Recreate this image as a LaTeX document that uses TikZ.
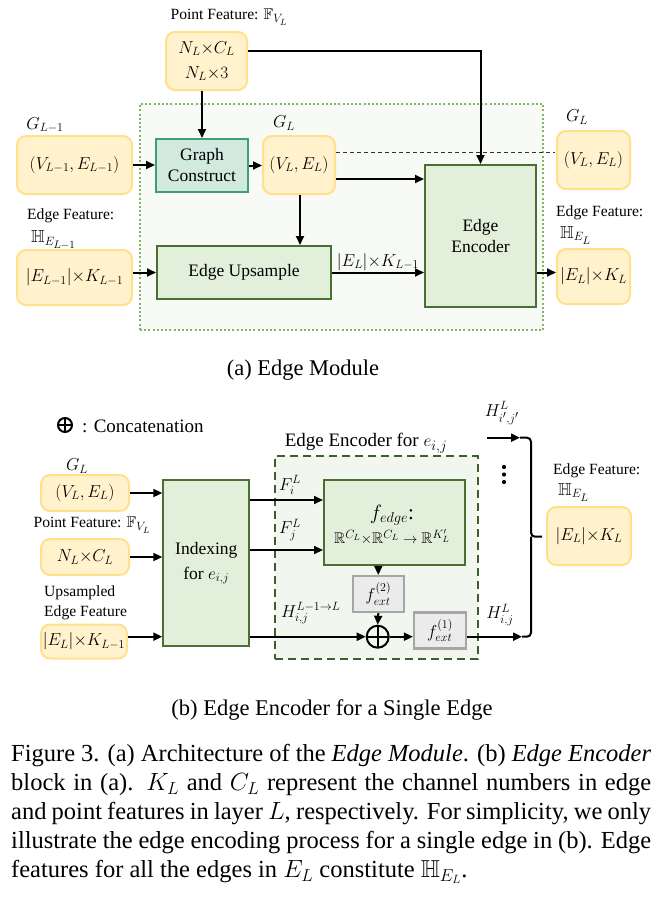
\documentclass[tikz,border=0pt]{standalone}
\usepackage{amsmath,amssymb}
\usepackage{fontspec}
\setmainfont{Liberation Serif}
\usetikzlibrary{arrows.meta}
\DeclareMathSizes{17.5}{17.5}{13.2}{10.5}
\DeclareMathSizes{15.6}{15.6}{11.8}{9.5}
\DeclareMathSizes{15.5}{15.5}{11.6}{9.3}
\DeclareMathSizes{19}{19}{14.2}{11.4}
\DeclareMathSizes{21}{21}{15.5}{12.5}
\definecolor{ofill}{HTML}{FFF2CC}
\definecolor{odraw}{HTML}{FFE08C}
\definecolor{gfill}{HTML}{E2EFDA}
\definecolor{gdraw}{HTML}{4B6E33}
\definecolor{tfill}{HTML}{D2E9DF}
\definecolor{tdraw}{HTML}{3F9E7A}
\definecolor{dotg}{HTML}{82B366}
\definecolor{cafill}{HTML}{F8FBF5}
\definecolor{cbfill}{HTML}{F1F6EE}
\definecolor{cbdraw}{HTML}{3F5F2A}
\definecolor{xfill}{HTML}{EBEBEB}
\definecolor{xdraw}{HTML}{A6A6A6}
\newcommand{\boxfs}{\fontsize{17.5}{25}\selectfont}
\newcommand{\labfs}{\fontsize{15.6}{19}\selectfont}
\newcommand{\bigfs}{\fontsize{19}{23}\selectfont}
\newcommand{\subfs}{\fontsize{22.5}{27}\selectfont}
\newcommand{\capfs}{\fontsize{24.5}{29}\selectfont}
\tikzset{
  obox/.style={draw=odraw, fill=ofill, line width=2pt, rounded corners=9pt, inner sep=0pt, font=\boxfs, align=center},
  gbox/.style={draw=gdraw, fill=gfill, line width=2pt, inner sep=0pt, font=\boxfs, align=center},
  tbox/.style={draw=tdraw, fill=tfill, line width=2pt, inner sep=0pt, font=\boxfs, align=center},
  xbox/.style={draw=xdraw, fill=xfill, line width=2.2pt, inner sep=0pt, font=\boxfs},
  lab/.style={font=\labfs, inner sep=0pt},
  mlab/.style={font=\boxfs, inner sep=0pt},
  arr/.style={line width=2pt, -{Triangle[length=9pt,width=8pt]}},
  plain/.style={line width=2pt},
  dotmark/.style={circle, fill=black, inner sep=0pt, minimum size=4.2pt},
  catsym/.style={circle, draw, line width=2pt, inner sep=0pt, minimum size=#1,
    path picture={\draw[line width=2pt] (path picture bounding box.north) -- (path picture bounding box.south)
      (path picture bounding box.west) -- (path picture bounding box.east);}}
}
\begin{document}
\begin{tikzpicture}[x=1pt,y=-1pt]
\useasboundingbox (0,0) rectangle (669,897);
% ---------------- (a) ----------------
\node[draw=dotg, fill=cafill, line width=2pt, dash pattern=on 2pt off 2.2pt, minimum width=403pt, minimum height=226pt, inner sep=0pt] (ca) at (341.5,217) {};
\node[lab] (pflab) at (229,17) {Point Feature: $\mathbb{F}_{V_L}$};
\node[obox, minimum width=81pt, minimum height=58pt] (pf) at (206.5,61) {$N_L{\times}C_L$\\$N_L{\times}3$};
\node[mlab] (g1lab) at (45,125) {$G_{L-1}$};
\node[obox, minimum width=115pt, minimum height=58pt] (gl1) at (74.5,165) {$(V_{L-1},E_{L-1})$};
\node[tbox, minimum width=92pt, minimum height=53pt] (gc) at (202,165.5) {Graph\\[-4pt]Construct};
\node[mlab] (glab) at (284,123) {$G_L$};
\node[obox, minimum width=72pt, minimum height=58pt] (gl) at (299,165) {$(V_L,E_L)$};
\node[gbox, minimum width=111pt, minimum height=142pt] (enc) at (480.5,236) {Edge\\[-4pt]Encoder};
\node[mlab] (grlab) at (577,117) {$G_L$};
\node[obox, minimum width=73pt, minimum height=58pt] (glr) at (593.5,160) {$(V_L,E_L)$};
\node[lab, anchor=west] (ef1lab) at (27,216) {Edge Feature:};
\node[mlab, anchor=west] (ef1h) at (31,240) {$\mathbb{H}_{E_{L-1}}$};
\node[obox, minimum width=115pt, minimum height=55pt] (ef1) at (74.5,277.5) {$|E_{L-1}|{\times}K_{L-1}$};
\node[gbox, minimum width=174pt, minimum height=53pt] (up) at (244,272.5) {Edge Upsample};
\node[lab, anchor=west] (efrlab) at (556,213) {Edge Feature:};
\node[mlab, anchor=west] (efrh) at (560,235) {$\mathbb{H}_{E_L}$};
\node[obox, minimum width=73pt, minimum height=55pt] (efr) at (593.5,276.5) {$|E_L|{\times}K_L$};
% connectors (a)
\draw[arr] ([yshift=10pt]pf.east) -| (enc.north);
\draw[arr] (pf.south -| gc.north) -- (gc.north);
\draw[arr] (gl1.east) -- (gl1.east -| gc.west);
\draw[arr] (gc.east) -- (gc.east -| gl.west);
\coordinate (dstart) at ([yshift=13pt]gl.east);
\coordinate (dend) at (555,152);
\draw[line width=1pt, draw=black!80, dash pattern=on 4pt off 3pt] (dstart) -- (dend);
\coordinate (glo) at ([yshift=-14pt]gl.east);
\draw[arr] (glo) -- (glo -| enc.west);
\coordinate (xv) at (300,0);
\draw[arr] (gl.south -| xv) -- (up.north -| xv);
\draw[arr] (up.west -| ef1.east) -- (up.west);
\draw[arr] (up.east) -- node[above=1pt, mlab] {$|E_L|{\times}K_{L-1}$} (up.east -| enc.west);
\draw[arr] (up.east -| enc.east) -- (up.east -| efr.west);
\node[font=\subfs, inner sep=0pt] (capa) at (303,370) {(a) Edge Module};
% ---------------- (b) ----------------
\node[draw=cbdraw, fill=cbfill, line width=2pt, dash pattern=on 8pt off 5pt, minimum width=202.7pt, minimum height=203pt, inner sep=0pt] (cb) at (376.35,557.5) {};
\node[catsym=14pt] (legcat) at (65,425) {};
\node[font=\bigfs, anchor=west, inner sep=0pt] (legtxt) at (82,426) {: Concatenation};
\node[font=\bigfs, inner sep=0pt] (cblab) at (366,443) {Edge Encoder for $e_{i,j}$};
\node[mlab] (gl2lab) at (77,466) {$G_L$};
\node[obox, minimum width=88pt, minimum height=36pt] (gl2) at (85,493) {$(V_L,E_L)$};
\node[lab] (nplab) at (92,525) {Point Feature: $\mathbb{F}_{V_L}$};
\node[obox, minimum width=88pt, minimum height=36pt] (np) at (85,557) {$N_L{\times}C_L$};
\node[lab, anchor=west] (ub1) at (44,593) {Upsampled};
\node[lab, anchor=west] (ub2) at (44,613) {Edge Feature};
\node[obox, minimum width=86pt, minimum height=34pt] (eb) at (84,641.5) {$|E_L|{\times}K_{L-1}$};
\node[gbox, minimum width=86pt, minimum height=166pt] (idx) at (206.3,563) {Indexing\\for $e_{i,j}$};
\node[gbox, minimum width=141pt, minimum height=85pt] (fedge) at (394.5,522.5) {};
\node[font=\fontsize{21}{24}\selectfont, inner sep=0pt] (fetxt) at (392,515) {$f_{edge}$:};
\node[font=\fontsize{15.5}{18}\selectfont, inner sep=0pt] (fmap) at (392,537) {$\mathbb{R}^{C_L}{\times}\mathbb{R}^{C_L}\rightarrow\mathbb{R}^{K'_L}$};
\node[xbox, minimum width=51pt, minimum height=36pt] (fx2) at (378.3,594) {$f_{ext}^{(2)}$};
\node[catsym=22pt] (cat) at (377.7,636.7) {};
\node[xbox, minimum width=52pt, minimum height=36pt] (fx1) at (440,630.5) {$f_{ext}^{(1)}$};
\node[mlab] (filab) at (290,485) {$F_i^L$};
\node[mlab] (fjlab) at (290,530) {$F_j^L$};
\node[mlab, anchor=west] (hlab) at (281,613) {$H_{i,j}^{L-1\rightarrow L}$};
\node[mlab] (hijlab) at (500,615) {$H_{i,j}^L$};
\node[mlab] (hplab) at (502,413) {$H_{i',j'}^L$};
\node[dotmark] (dot1) at (504,467) {};
\node[dotmark] (dot2) at (504,474.5) {};
\node[dotmark] (dot3) at (504,482) {};
\node[lab, anchor=west] (efblab) at (553,471) {Edge Feature:};
\node[mlab, anchor=west] (efbh) at (558,492) {$\mathbb{H}_{E_L}$};
\node[obox, minimum width=84pt, minimum height=58pt] (efb) at (589,536) {$|E_L|{\times}K_L$};
% connectors (b)
\coordinate (yA) at (0,500);
\coordinate (yB) at (0,550);
\coordinate (yC) at (0,636.7);
\draw[arr] (gl2.east) -- (gl2.east -| idx.west);
\draw[arr] (np.east) -- (np.east -| idx.west);
\draw[arr] (eb.east |- yC) -- (idx.west |- yC);
\draw[arr] (idx.east |- yA) -- (fedge.west |- yA);
\draw[arr] (idx.east |- yB) -- (fedge.west |- yB);
\draw[arr] (idx.east |- yC) -- (cat.west);
\draw[arr] (fedge.south -| fx2.north) -- (fx2.north);
\draw[arr] (fx2.south) -- (cat.north);
\draw[arr] (cat.east) -- (cat.east -| fx1.west);
\coordinate (bt) at (520,437.7);
\coordinate (bb) at (522,636.7);
\coordinate (bm) at (531,536.7);
\coordinate (bx) at (542,536.7);
\coordinate (ht) at (487,437.7);
\draw[arr] (cat.east -| fx1.east) -- (bb);
\draw[arr] (ht) -- (bt);
\draw[plain, rounded corners=4pt] (bt) -| (bm) -- (bx);
\draw[plain, rounded corners=4pt] (bb) -| (bm);
\node[font=\subfs, inner sep=0pt] (capb) at (332,710) {(b) Edge Encoder for a Single Edge};
% ---------------- caption ----------------
\node[anchor=north west, inner sep=0pt, text width=640pt, align=justify, font=\capfs] (cap) at (11,744) {Figure 3. (a) Architecture of the \textit{Edge Module}. (b) \textit{Edge Encoder}\linebreak block in (a). $K_L$ and $C_L$ represent the channel numbers in edge\linebreak and point features in layer $L$, respectively. For simplicity, we only\linebreak illustrate the edge encoding process for a single edge in (b). Edge\linebreak features for all the edges in $E_L$ constitute $\mathbb{H}_{E_L}$.};
\end{tikzpicture}
\end{document}
